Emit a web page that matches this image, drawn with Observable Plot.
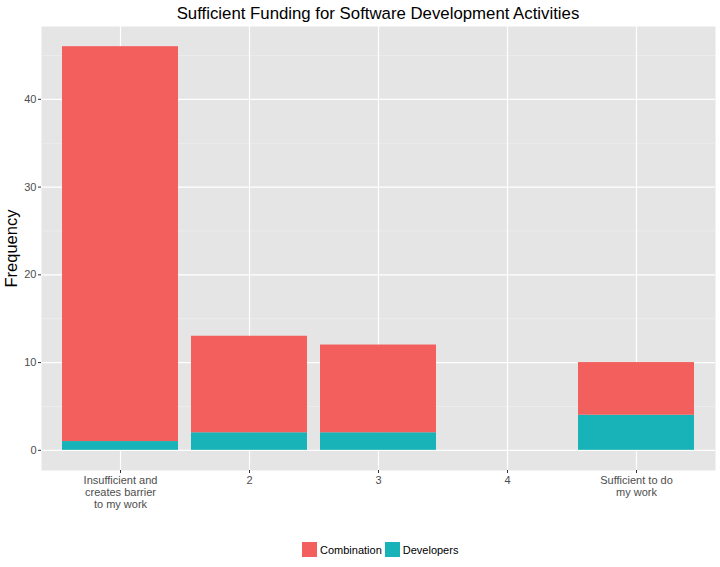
<!DOCTYPE html>
<html><head><meta charset="utf-8">
<script src="https://cdn.jsdelivr.net/npm/d3@7"></script>
<script src="https://cdn.jsdelivr.net/npm/@observablehq/plot@0.6"></script>
<style>
body{margin:0;background:#fff;font-family:"Liberation Sans",Arial,sans-serif;}
#title{height:26px;line-height:27px;font-size:16.8px;color:#000;text-align:center;padding-left:41px;padding-right:5px;width:674px;}
#chart svg{display:block;}
g[aria-label="y-axis label"] text{font-size:16.5px;fill:#000;}
#legend{display:flex;align-items:center;margin-top:16px;padding-left:302px;font-size:11px;color:#000;height:15px;}
#legend .sw{width:15px;height:15px;margin-right:3px;}
#legend .lab{margin-right:3px;}
</style>
</head><body>
<div id="title">Sufficient Funding for Software Development Activities</div>
<div id="chart"></div>
<div id="legend"></div>
<script>
const categories = ["Insufficient and\ncreates barrier\nto my work", "2", "3", "4", "Sufficient to do\nmy work"];
const combination = [45, 11, 10, 0, 6];
const developers = [1, 2, 2, 0, 4];
const seriesNames = ["Combination", "Developers"];
const seriesColors = ["#F35F5C", "#18B3B8"];
const yTicks = [0, 10, 20, 30, 40];
const yMinor = [5, 15, 25, 35, 45];

const rows = [];
categories.forEach((c, i) => {
  rows.push({cat: c, series: "Developers", value: developers[i]});
  rows.push({cat: c, series: "Combination", value: combination[i]});
});

const chart = Plot.plot({
  width: 720, height: 500,
  marginTop: 0, marginLeft: 41, marginRight: 5, marginBottom: 56,
  style: {fontFamily: "Liberation Sans, Arial, sans-serif", fontSize: "11px", color: "#4D4D4D", background: "transparent"},
  x: {domain: categories, paddingInner: 0.1, paddingOuter: 0.15, label: null},
  y: {domain: [-2.3, 48.3], label: "Frequency"},
  color: {domain: seriesNames, range: seriesColors},
  marks: [
    Plot.frame({fill: "#E5E5E5", stroke: null}),
    Plot.gridY(yMinor, {stroke: "#F2F2F2", strokeOpacity: 1, strokeWidth: 0.6}),
    Plot.gridY(yTicks, {stroke: "#fff", strokeOpacity: 1, strokeWidth: 1.2}),
    Plot.gridX({stroke: "#fff", strokeOpacity: 1, strokeWidth: 1.2}),
    Plot.barY(rows, {x: "cat", y: "value", fill: "series"}),
    Plot.axisY(yTicks, {tickSize: 3, tickPadding: 2, stroke: "#333", label: "Frequency", labelAnchor: "center", labelArrow: "none", labelOffset: 36}),
    Plot.axisX({tickSize: 3, tickPadding: 2, stroke: "#333", lineHeight: 1.1, label: null})
  ]
});
document.getElementById("chart").appendChild(chart);

const legend = document.getElementById("legend");
seriesNames.forEach((s, i) => {
  const sw = document.createElement("div");
  sw.className = "sw"; sw.style.background = seriesColors[i];
  const lab = document.createElement("div");
  lab.className = "lab"; lab.textContent = s;
  legend.appendChild(sw); legend.appendChild(lab);
});
</script>
</body></html>
